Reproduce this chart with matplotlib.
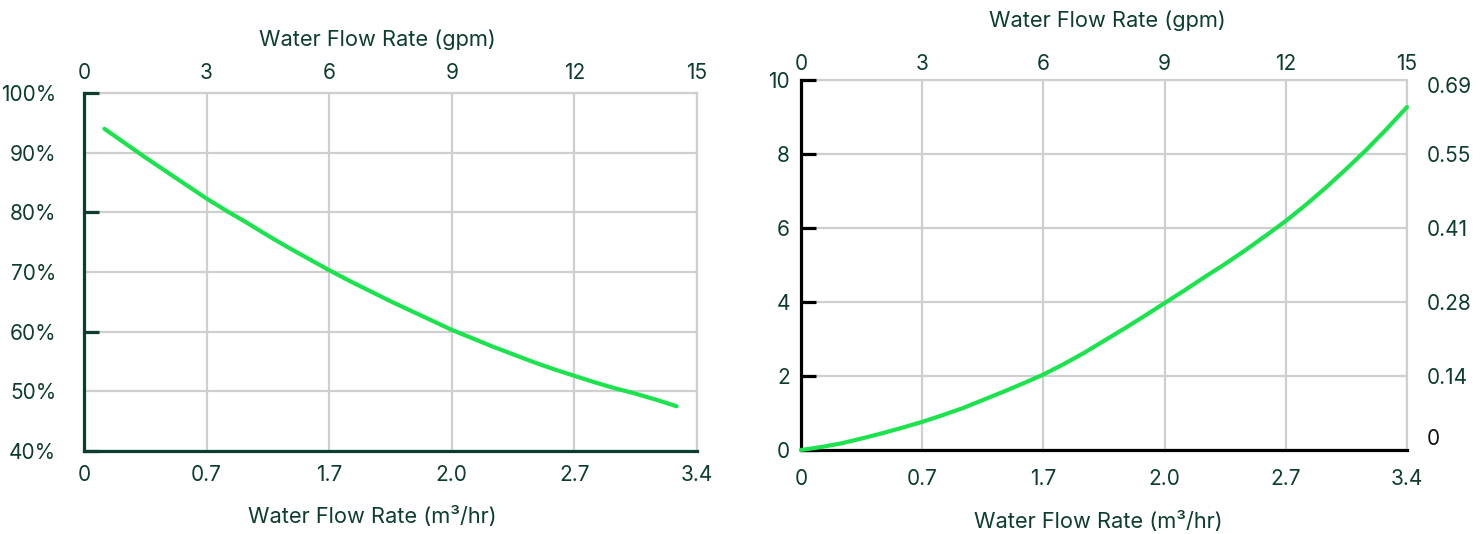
import matplotlib.pyplot as plt
import matplotlib.transforms as mtransforms
from matplotlib.ticker import FixedLocator

# data
gpm_ticks = [0, 3, 6, 9, 12, 15]
m3hr_labels = ["0", "0.7", "1.7", "2.0", "2.7", "3.4"]

eff_gpm = [0.5, 1, 1.5, 2, 2.5, 3, 3.5, 4, 4.5, 5, 5.5, 6, 6.5, 7, 7.5, 8, 8.5,
           9, 9.5, 10, 10.5, 11, 11.5, 12, 12.5, 13, 13.5, 14, 14.5]
eff_pct = [94, 91.6, 89.2, 86.9, 84.6, 82.3, 80.2, 78.2, 76.1, 74.1, 72.2, 70.3,
           68.5, 66.8, 65.1, 63.5, 61.9, 60.3, 58.9, 57.5, 56.2, 54.9, 53.7,
           52.6, 51.5, 50.5, 49.6, 48.6, 47.5]
eff_ticks = [40, 50, 60, 70, 80, 90, 100]

loss_gpm = [0, 0.5, 1, 1.5, 2, 2.5, 3, 3.5, 4, 4.5, 5, 5.5, 6, 6.5, 7, 7.5, 8,
            8.5, 9, 9.5, 10, 10.5, 11, 11.5, 12, 12.5, 13, 13.5, 14, 14.5, 15]
loss_psi = [0, 0.08, 0.18, 0.31, 0.45, 0.6, 0.76, 0.94, 1.13, 1.35, 1.57, 1.8,
            2.04, 2.32, 2.62, 2.95, 3.28, 3.62, 3.97, 4.32, 4.68, 5.03, 5.4,
            5.79, 6.19, 6.63, 7.1, 7.6, 8.12, 8.68, 9.27]
loss_ticks = [0, 2, 4, 6, 8, 10]
loss_right_labels = ["0", "0.14", "0.28", "0.41", "0.55", "0.69"]

TEXT = "#0d3d30"
GREEN = "#1be34d"
GRID = "#cfcfcf"
LABEL_SIZE = 15.7

plt.rcParams["font.family"] = ["Inter", "DejaVu Sans"]
plt.rcParams["font.size"] = 15

fig = plt.figure(figsize=(14.84, 5.34), dpi=100)
W, H = 1484, 534


def box(l, t, r, b):
    return [l / W, 1 - b / H, (r - l) / W, (b - t) / H]


def base_axes(ax, spine_color, ypad, bottom_pad, top_pad):
    ax.set_xlim(0, 15)
    ax.xaxis.set_major_locator(FixedLocator(gpm_ticks))
    ax.set_xticklabels(m3hr_labels)
    ax.grid(True, color=GRID, linewidth=1.6)
    ax.set_axisbelow(True)
    for s in ["top", "right"]:
        ax.spines[s].set_color(GRID)
        ax.spines[s].set_linewidth(1.6)
        ax.spines[s].set_zorder(0.4)
    for s in ["left", "bottom"]:
        ax.spines[s].set_color(spine_color)
        ax.spines[s].set_linewidth(2.3)
        ax.spines[s].set_zorder(3)
    ax.tick_params(axis="x", length=0, pad=bottom_pad, colors=TEXT)
    ax.tick_params(axis="y", direction="in", length=11, width=2.3,
                   color=spine_color, labelcolor=TEXT, pad=ypad)
    sec = ax.secondary_xaxis("top")
    sec.set_xticks(gpm_ticks)
    sec.set_xticklabels([str(v) for v in gpm_ticks])
    sec.tick_params(length=0, pad=top_pad, colors=TEXT)
    sec.spines["top"].set_visible(False)
    return sec


# left panel: efficiency
ax1 = fig.add_axes(box(84, 93, 697, 451))
base_axes(ax1, TEXT, 20, 10, 7)
ax1.plot(eff_gpm, eff_pct, color=GREEN, linewidth=3, solid_capstyle="round",
         solid_joinstyle="round", zorder=4)
ax1.set_ylim(40, 100)
ax1.set_yticks(eff_ticks)
ax1.set_yticklabels([f"{v}%" for v in eff_ticks])
# tick marks only every 20%
for t, v in zip(ax1.yaxis.get_major_ticks(), eff_ticks):
    if v % 20:
        t.tick1line.set_visible(False)
ax1.text(0.478, 1.148, "Water Flow Rate (gpm)", transform=ax1.transAxes,
         ha="center", va="center", color=TEXT, fontsize=LABEL_SIZE)
ax1.text(0.470, -0.184, "Water Flow Rate (m³/hr)", transform=ax1.transAxes,
         ha="center", va="center", color=TEXT, fontsize=LABEL_SIZE)

# right panel: pressure loss
ax2 = fig.add_axes(box(801, 80, 1407, 450))
base_axes(ax2, "black", 8, 14, 4)
ax2.plot(loss_gpm, loss_psi, color=GREEN, linewidth=3, solid_capstyle="round",
         solid_joinstyle="round", zorder=4, clip_on=False)
ax2.set_ylim(0, 10)
ax2.set_yticks(loss_ticks)

axr = ax2.twinx()
axr.set_ylim(0, 10)
axr.set_yticks(loss_ticks)
axr.set_yticklabels(loss_right_labels)
axr.tick_params(axis="y", length=0, pad=14, colors=TEXT)
for s in axr.spines.values():
    s.set_visible(False)
# "0" on the right sits a little higher, "0.69" a little lower
lbls = axr.get_yticklabels()
lbls[0].set_transform(lbls[0].get_transform() + mtransforms.ScaledTranslation(0, 13 / 100, fig.dpi_scale_trans))
lbls[0].set_color("#111111")
lbls[-1].set_transform(lbls[-1].get_transform() + mtransforms.ScaledTranslation(0, -5 / 100, fig.dpi_scale_trans))

ax2.text(0.505, 1.16, "Water Flow Rate (gpm)", transform=ax2.transAxes,
         ha="center", va="center", color=TEXT, fontsize=LABEL_SIZE)
ax2.text(0.490, -0.192, "Water Flow Rate (m³/hr)", transform=ax2.transAxes,
         ha="center", va="center", color=TEXT, fontsize=LABEL_SIZE)

fig.savefig("out.png", dpi=100)
